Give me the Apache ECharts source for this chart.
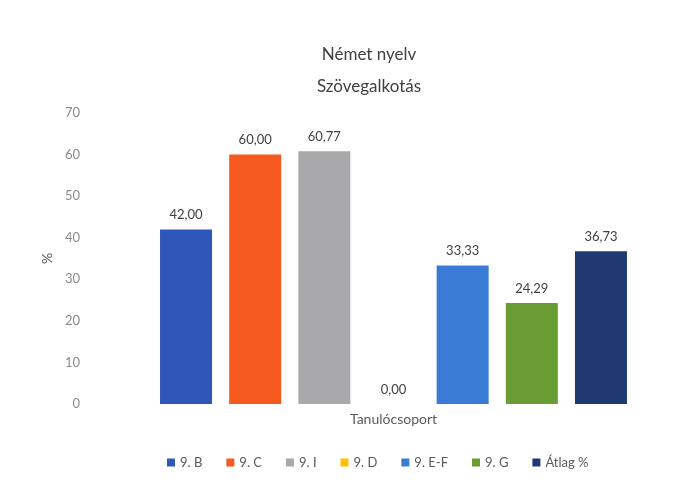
<!DOCTYPE html>
<html>
<head>
<meta charset="utf-8">
<script src="https://cdn.jsdelivr.net/npm/echarts@6/dist/echarts.min.js"></script>
<style>html,body{margin:0;padding:0;background:#fff}#c{width:698px;height:488px}</style>
</head>
<body>
<div id="c"></div>
<script>
const categories = ['Tanulócsoport'];
const seriesNames = ['9. B', '9. C', '9. I', '9. D', '9. E-F', '9. G', 'Átlag %'];
const seriesValues = [42.00, 60.00, 60.77, 0.00, 33.33, 24.29, 36.73];
const seriesColors = ['#2f57b9', '#f75a1f', '#a9a9ab', '#ffc000', '#3a7bd6', '#6a9c34', '#1f3a73'];
const yTicks = { min: 0, max: 70, interval: 10 };

const chart = echarts.init(document.getElementById('c'));
const font = 'Lato, "Open Sans", sans-serif';
chart.setOption({
  animation: false,
  textStyle: { fontFamily: font },
  title: {
    text: 'Német nyelv\nSzövegalkotás',
    left: 364, top: 34, textAlign: 'center',
    textStyle: { fontFamily: font, fontSize: 17, fontWeight: 'normal', color: '#404040', lineHeight: 32 }
  },
  legend: {
    bottom: 14, left: 162,
    itemWidth: 8, itemHeight: 8, itemGap: 24,
    icon: 'rect',
    textStyle: { fontFamily: font, fontSize: 13, color: '#595959' },
    data: seriesNames
  },
  grid: { left: 130, right: 41, top: 113, bottom: 84 },
  xAxis: {
    type: 'category', data: categories,
    axisLine: { show: false }, axisTick: { show: false },
    axisLabel: { fontFamily: font, fontSize: 14, color: '#595959', margin: 8 }
  },
  yAxis: {
    type: 'value', min: yTicks.min, max: yTicks.max, interval: yTicks.interval,
    name: '%', nameLocation: 'middle', nameGap: 76, nameRotate: 90,
    nameTextStyle: { fontFamily: font, fontSize: 14, color: '#595959' },
    axisLine: { show: false }, axisTick: { show: false }, splitLine: { show: false },
    axisLabel: { fontFamily: font, fontSize: 13, color: '#8a8a8a', margin: 50 }
  },
  series: seriesNames.map((n, i) => ({
    name: n, type: 'bar', data: [seriesValues[i]],
    barWidth: 52, barGap: '33%',
    itemStyle: { color: seriesColors[i] },
    label: {
      show: true, position: 'top', distance: 8,
      fontFamily: font, fontSize: 13, color: '#404040',
      formatter: p => p.value.toFixed(2).replace('.', ',')
    }
  }))
});
</script>
</body>
</html>
